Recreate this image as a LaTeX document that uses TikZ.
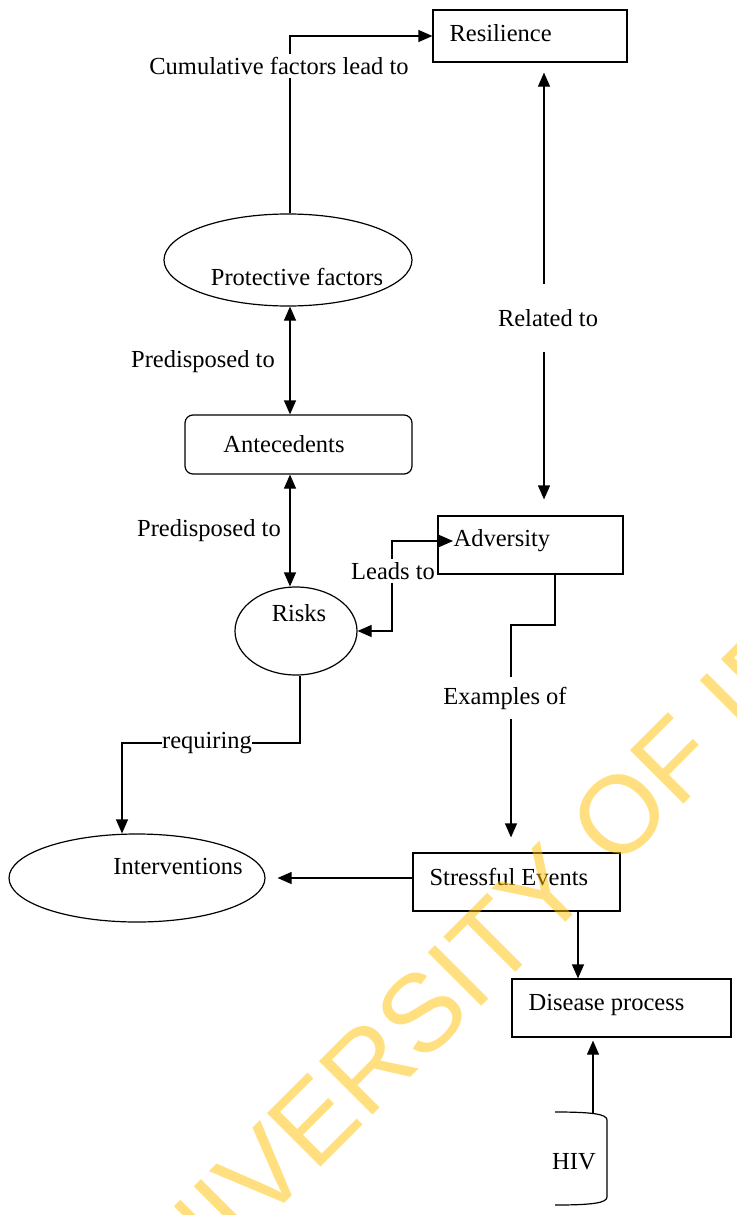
\documentclass[tikz,border=0pt]{standalone}
\usepackage{fontspec}
\setmainfont{Liberation Serif}
\newfontfamily\wmfont{Liberation Sans}
\usetikzlibrary{shapes.geometric,arrows.meta}
\definecolor{wmyellow}{RGB}{255,192,0}
\begin{document}
\begin{tikzpicture}[x=1pt,y=-1pt,
  font=\fontsize{24.5}{29}\selectfont,
  line width=1.2pt,
  >={Triangle[length=14pt,width=12pt]},
  box/.style={draw, rectangle, inner sep=0pt},
  oval/.style={draw, ellipse, inner sep=0pt},
  txt/.style={inner sep=0pt},
  lbl/.style={fill=white, inner xsep=1pt, inner ysep=3pt}]
\useasboundingbox (0,0) rectangle (736,1215);

% shapes
\node[box, minimum width=194pt, minimum height=52pt] (res) at (530,36) {};
\node[oval, minimum width=248pt, minimum height=92pt] (prot) at (288,260) {};
\node[box, rounded corners=8pt, minimum width=227pt, minimum height=59pt] (ante) at (298.5,444.5) {};
\node[oval, minimum width=122pt, minimum height=88pt] (risks) at (296,631) {};
\node[box, minimum width=185pt, minimum height=58pt] (adv) at (530.5,545) {};
\node[box, minimum width=207pt, minimum height=58pt] (str) at (516.5,882) {};
\node[oval, minimum width=256pt, minimum height=88pt] (int) at (137,878) {};
\node[box, minimum width=219pt, minimum height=58pt] (dis) at (621.5,1008) {};
\draw (555,1112) .. controls (592,1112) and (607,1114) .. (607,1120)
  -- (607,1197) .. controls (607,1203) and (592,1205) .. (555,1205);
\coordinate (hivtop) at (593,1112.5);

% texts inside shapes
\node[txt, anchor=west] (rest) at (449,33) {Resilience};
\node[txt] (prott) at (297,277) {Protective factors};
\node[txt] (antet) at (284,444) {Antecedents};
\node[txt] (riskt) at (299,613) {Risks};
\node[txt, anchor=west] (advt) at (453,541) {Adversity};
\node[txt, anchor=west] (strt) at (429,877) {Stressful Events};
\node[txt] (intt) at (178,866) {Interventions};
\node[txt, anchor=west] (dist) at (528,1005) {Disease process};
\node[txt] (hivt) at (574,1162) {HIV};

% helper coordinates
\coordinate (x290) at (290,0);
\coordinate (x392) at (392,0);
\coordinate (x544) at (544,0);
\coordinate (x555) at (555,0);
\coordinate (x300) at (300,0);
\coordinate (x578) at (578,0);
\coordinate (x593) at (593,0);
\coordinate (e1) at (511,625);
\coordinate (r1) at (122,743);

% connectors
\draw[->] (prot.north -| x290) |- (res.west);
\draw[<->] (prot.south -| x290) -- (ante.north -| x290);
\draw[<->] (ante.south -| x290) -- (risks.north -| x290);
\draw[<->] (risks.east) -- (risks.east -| x392) |- (advt.west);
\draw[<->, shorten <=10pt, shorten >=16pt] (res.south -| x544) -- (adv.north -| x544);
\draw[->, shorten >=15pt] (adv.south -| x555) |- (e1) -- (str.north -| e1);
\draw[->, shorten >=12pt] (str.west |- int.east) -- (int.east);
\draw[->] (risks.south -| x300) |- (r1) -- (int.north -| r1);
\draw[->] (str.south -| x578) -- (dis.north -| x578);
\draw[->, shorten >=3pt] (hivtop) -- (dis.south -| x593);

% connector labels
\node[lbl] (l1) at (279,66) {Cumulative factors lead to};
\node[lbl] (l2) at (203,362) {Predisposed to};
\node[lbl] (l3) at (209,531) {Predisposed to};
\node[lbl, inner ysep=25pt] (l4) at (548,318) {Related to};
\node[lbl] (l5) at (393,571) {Leads to};
\node[lbl, inner ysep=10pt] (l6) at (505,698) {Examples of};
\node[lbl, inner ysep=1pt, inner xsep=0pt] (l7) at (207,743) {requiring};

% watermark
\begin{scope}
\clip (0,0) rectangle (736,1215);
\node[anchor=base west, inner sep=0pt, rotate=45, text=wmyellow, text opacity=0.5,
  font=\wmfont\fontsize{110}{110}\selectfont] (wm) at (128,1360) {UNIVERSITY OF IBADAN};
\end{scope}
\end{tikzpicture}
\end{document}
